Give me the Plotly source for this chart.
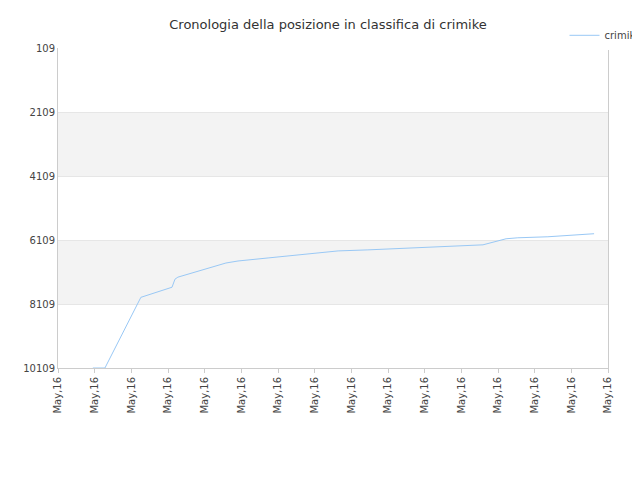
import plotly.graph_objects as go

x_idx = [0.95, 1.28, 2.26, 3.11, 3.19, 3.27, 4.58, 4.91, 5.73, 6.82, 7.64, 8.45, 9.55, 10.36, 11.59, 12.22, 12.54, 13.36, 14.62]
rank = [10109, 10109, 7901, 7585, 7333, 7270, 6828, 6765, 6670, 6544, 6450, 6418, 6355, 6323, 6260, 6071, 6040, 6008, 5913]
tick_vals = list(range(16))
tick_text = ["May,16"] * 16
y_ticks = [109, 2109, 4109, 6109, 8109, 10109]
y_text = ["109", "2109", "4109", "6109", "8109", "10109"]

fig = go.Figure()
fig.add_trace(go.Scatter(x=x_idx, y=rank, mode="lines", name="crimike",
                         line=dict(color="#99c8f5", width=1)))
for a, b in [(2109, 4109), (6109, 8109)]:
    fig.add_hrect(y0=a, y1=b, fillcolor="#f3f3f3", line_width=0, layer="below")

fig.update_layout(
    width=640, height=480, plot_bgcolor="white", paper_bgcolor="white",
    margin=dict(l=50, r=40, t=40, b=120, autoexpand=False),
    title=dict(text="Cronologia della posizione in classifica di crimike", x=0.5, xanchor="center",
               y=0.975, font=dict(size=13, color="#333", family="DejaVu Sans")),
    font=dict(family="DejaVu Sans", size=10, color="#444"),
    showlegend=True,
    legend=dict(x=1.07, y=1.085, xanchor="right", yanchor="top", font=dict(size=10)),
    xaxis=dict(range=[0, 15], tickvals=tick_vals, ticktext=tick_text, tickangle=-90,
               showgrid=False, zeroline=False, showline=True, linecolor="#ccc",
               ticks="outside", ticklen=4, tickcolor="#ccc", automargin=False),
    yaxis=dict(range=[10109, 109], tickvals=y_ticks, ticktext=y_text, showgrid=True,
               gridcolor="#e6e6e6", zeroline=False, showline=True, linecolor="#ccc",
               mirror=True, automargin=False),
)
fig.write_html("out.html")
